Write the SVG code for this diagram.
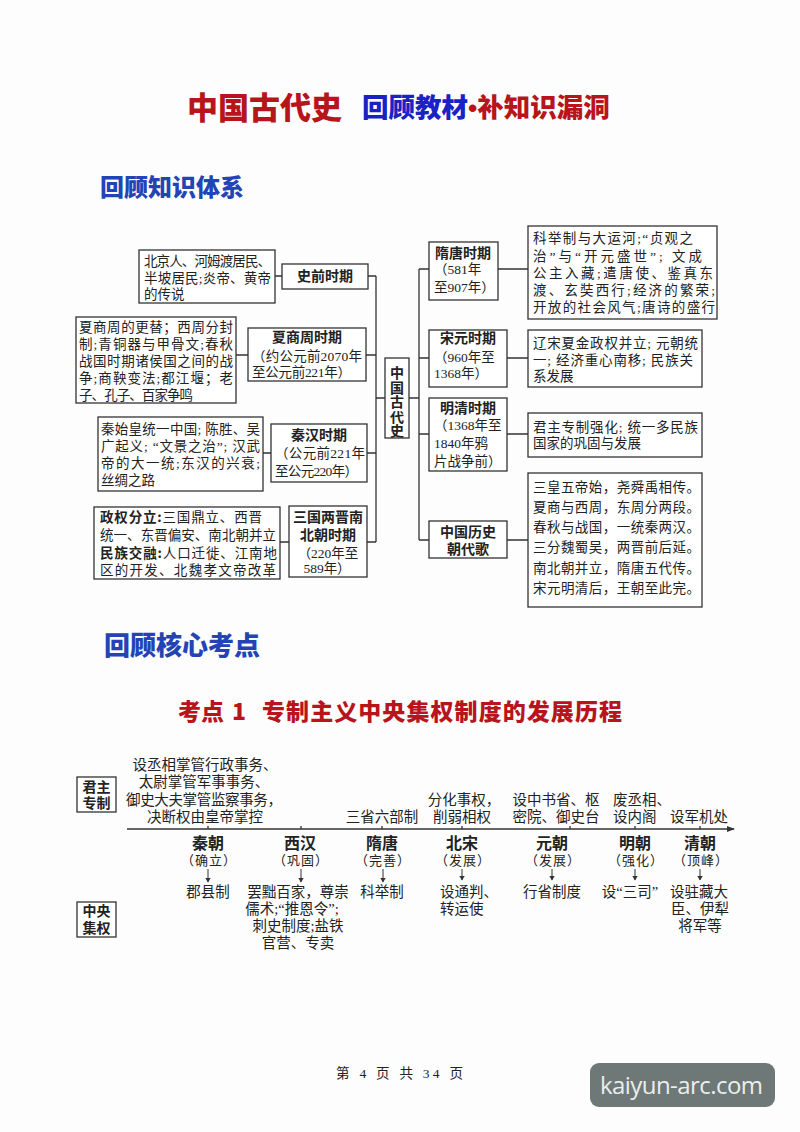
<svg xmlns="http://www.w3.org/2000/svg" width="800" height="1132" viewBox="0 0 800 1132">
<defs>
<marker id="ah" markerWidth="8" markerHeight="6" refX="7" refY="3" orient="auto" markerUnits="userSpaceOnUse"><path d="M0,0 L8,3 L0,6 Z" fill="#333"/></marker>
<marker id="ahs" markerWidth="5" markerHeight="6" refX="4.5" refY="3" orient="auto" markerUnits="userSpaceOnUse"><path d="M0,0 L5,3 L0,6 Z" fill="#333"/></marker>
<style>
.box{fill:#fff;stroke:#333;stroke-width:1.3}
.ln{stroke:#333;stroke-width:1.3;fill:none}
.t{font-family:"Liberation Serif","Noto Sans CJK SC",serif;font-size:13.5px;fill:#222}
.b{font-family:"Noto Sans CJK SC","Noto Sans",sans-serif;font-weight:700;font-size:14px;fill:#222}
.bb{font-weight:700;font-family:"Noto Sans CJK SC","Noto Sans",sans-serif}
.c{text-anchor:middle}
.h{font-family:"Noto Sans CJK SC","Noto Sans",sans-serif;font-weight:900}
.tl{font-family:"Liberation Serif","Noto Sans CJK SC",serif;font-size:14.5px;fill:#222}
.dy{font-family:"Noto Sans CJK SC","Noto Sans",sans-serif;font-weight:700;font-size:16px;fill:#222;text-anchor:middle}
.pr{font-family:"Noto Sans CJK SC","Noto Sans",sans-serif;font-size:13px;fill:#222;text-anchor:middle;letter-spacing:1px}
</style>
</defs>
<rect x="0" y="0" width="800" height="1132" fill="#fdfdfd"/>

<g id="titles">
<text class="h" x="187" y="119" font-size="31" fill="#b8141c">中国古代史</text>
<text class="h" x="362" y="117" font-size="26.5"><tspan fill="#1a22c4">回顾教材</tspan><tspan fill="#b8141c" font-family="'Liberation Sans',sans-serif">•</tspan><tspan fill="#b8141c">补知识漏洞</tspan></text>
<text class="h" x="100" y="196" font-size="24" fill="#2443b5">回顾知识体系</text>
<text class="h" x="104" y="655" font-size="26" fill="#2443b5">回顾核心考点</text>
<text class="h" x="178" y="720" font-size="23" fill="#b8141c">考点</text>
<text class="h" x="232" y="720" font-size="23" fill="#b8141c">1</text>
<text class="h" x="262" y="720" font-size="23" fill="#b8141c" textLength="360">专制主义中央集权制度的发展历程</text>
</g>

<g id="connectors">
<path class="ln" d="M275,276 H282 M368,276 H376 M236,355 H248 M366,355 H376 M263,453 H271 M367,453 H376 M280,542 H289 M367,542 H376 M376,276 V542 M376,398 H385"/>
<path class="ln" d="M409,398 H419 M419,269 V540 M419,269 H429 M419,358 H429 M419,434 H429 M419,540 H429 M498,269 H528 M507,358 H528 M507,434 H528 M507,540 H528"/>
<line class="ln" x1="127" y1="829" x2="734" y2="829" marker-end="url(#ah)"/>
<path class="ln" stroke-width="1" d="M208,826 V829 M301,826 V829 M382,826 V829 M462,826 V829 M570,826 V829 M635,826 V829 M700,826 V829"/>
<g stroke="#333" stroke-width="1">
<line x1="208" y1="869" x2="208" y2="882" marker-end="url(#ahs)"/>
<line x1="301" y1="869" x2="301" y2="882" marker-end="url(#ahs)"/>
<line x1="383" y1="869" x2="383" y2="882" marker-end="url(#ahs)"/>
<line x1="462" y1="869" x2="462" y2="880" marker-end="url(#ahs)"/>
<line x1="552" y1="869" x2="552" y2="880" marker-end="url(#ahs)"/>
<line x1="635" y1="869" x2="635" y2="880" marker-end="url(#ahs)"/>
<line x1="700" y1="869" x2="700" y2="880" marker-end="url(#ahs)"/>
</g>
</g>

<g id="n-prehistory-detail">
<rect class="box" x="139" y="250" width="136" height="53"/>
<text class="t" x="144" y="266" textLength="127">北京人、河姆渡居民、</text>
<text class="t" x="144" y="283" textLength="127">半坡居民;炎帝、黄帝</text>
<text class="t" x="144" y="299">的传说</text>
</g>
<g id="n-prehistory">
<rect class="box" x="282" y="264" width="86" height="25"/>
<text class="b c" x="325" y="281">史前时期</text>
</g>

<g id="n-xsz-detail">
<rect class="box" x="76" y="317" width="160" height="86"/>
<text class="t" x="79" y="332" textLength="154">夏商周的更替；西周分封</text>
<text class="t" x="79" y="349" textLength="154">制;青铜器与甲骨文;春秋</text>
<text class="t" x="79" y="366" textLength="154">战国时期诸侯国之间的战</text>
<text class="t" x="79" y="383" textLength="154">争;商鞅变法;都江堰；老</text>
<text class="t" x="79" y="400" textLength="114">子、孔子、百家争鸣</text>
</g>
<g id="n-xsz">
<rect class="box" x="248" y="328" width="118" height="53"/>
<text class="b c" x="307" y="342">夏商周时期</text>
<text class="t" x="252" y="361" textLength="110">（约公元前2070年</text>
<text class="t" x="252" y="377" textLength="99">至公元前221年）</text>
</g>

<g id="n-qh-detail">
<rect class="box" x="98" y="417" width="165" height="74"/>
<text class="t" x="101" y="434" textLength="159">秦始皇统一中国; 陈胜、吴</text>
<text class="t" x="101" y="451" textLength="159">广起义; “文景之治”; 汉武</text>
<text class="t" x="101" y="468" textLength="159">帝的大一统;东汉的兴衰;</text>
<text class="t" x="101" y="485">丝绸之路</text>
</g>
<g id="n-qh">
<rect class="box" x="271" y="424" width="96" height="58"/>
<text class="b c" x="319" y="440">秦汉时期</text>
<text class="t" x="275" y="458" textLength="90">（公元前221年</text>
<text class="t" x="275" y="476" textLength="83">至公元220年）</text>
</g>

<g id="n-sg-detail">
<rect class="box" x="94" y="507" width="186" height="72"/>
<text class="t" x="100" y="522" textLength="162"><tspan class="bb">政权分立:</tspan>三国鼎立、西晋</text>
<text class="t" x="100" y="540" textLength="176">统一、东晋偏安、南北朝并立</text>
<text class="t" x="100" y="558" textLength="177"><tspan class="bb">民族交融:</tspan>人口迁徙、江南地</text>
<text class="t" x="100" y="575" textLength="176">区的开发、北魏孝文帝改革</text>
</g>
<g id="n-sg">
<rect class="box" x="289" y="506" width="78" height="71"/>
<text class="b c" x="328" y="522">三国两晋南</text>
<text class="b c" x="328" y="540">北朝时期</text>
<text class="t c" x="328" y="558">（220年至</text>
<text class="t c" x="327" y="573">589年）</text>
</g>

<g id="n-center">
<rect class="box" x="385" y="358" width="24" height="80"/>
<text class="b" font-size="13" x="397" y="366" style="writing-mode:vertical-rl" letter-spacing="0.4">中国古代史</text>
</g>

<g id="n-sui">
<rect class="box" x="429" y="242" width="69" height="58"/>
<text class="b c" x="463" y="258">隋唐时期</text>
<text class="t" x="434" y="274">（581年</text>
<text class="t" x="434" y="292">至907年）</text>
</g>
<g id="n-sui-detail">
<rect class="box" x="528" y="226" width="189" height="93"/>
<text class="t" x="533" y="243" textLength="160">科举制与大运河;“贞观之</text>
<text class="t" x="533" y="261" textLength="169">治”与“开元盛世”; 文成</text>
<text class="t" x="533" y="278" textLength="180">公主入藏;遣唐使、鉴真东</text>
<text class="t" x="533" y="295" textLength="182">渡、玄奘西行;经济的繁荣;</text>
<text class="t" x="533" y="312" textLength="182">开放的社会风气;唐诗的盛行</text>
</g>

<g id="n-song">
<rect class="box" x="429" y="330" width="78" height="57"/>
<text class="b c" x="468" y="343">宋元时期</text>
<text class="t" x="434" y="362">（960年至</text>
<text class="t" x="434" y="378">1368年）</text>
</g>
<g id="n-song-detail">
<rect class="box" x="528" y="330" width="174" height="57"/>
<text class="t" x="533" y="348" textLength="165">辽宋夏金政权并立; 元朝统</text>
<text class="t" x="533" y="365" textLength="160">一; 经济重心南移; 民族关</text>
<text class="t" x="533" y="381">系发展</text>
</g>

<g id="n-ming">
<rect class="box" x="429" y="398" width="78" height="73"/>
<text class="b c" x="468" y="413">明清时期</text>
<text class="t" x="434" y="430">（1368年至</text>
<text class="t" x="434" y="448">1840年鸦</text>
<text class="t" x="434" y="466">片战争前）</text>
</g>
<g id="n-ming-detail">
<rect class="box" x="528" y="413" width="174" height="44"/>
<text class="t" x="533" y="432" textLength="165">君主专制强化; 统一多民族</text>
<text class="t" x="533" y="448">国家的巩固与发展</text>
</g>

<g id="n-song-of-dynasties">
<rect class="box" x="429" y="521" width="78" height="37"/>
<text class="b c" x="468" y="537">中国历史</text>
<text class="b c" x="468" y="554">朝代歌</text>
</g>
<g id="n-poem">
<rect class="box" x="528" y="473" width="174" height="134"/>
<text class="t" x="533" y="492" textLength="167">三皇五帝始，尧舜禹相传。</text>
<text class="t" x="533" y="512" textLength="167">夏商与西周，东周分两段。</text>
<text class="t" x="533" y="532" textLength="167">春秋与战国，一统秦两汉。</text>
<text class="t" x="533" y="552" textLength="167">三分魏蜀吴，两晋前后延。</text>
<text class="t" x="533" y="573" textLength="167">南北朝并立，隋唐五代传。</text>
<text class="t" x="533" y="593" textLength="167">宋元明清后，王朝至此完。</text>
</g>

<g id="n-junzhu">
<rect class="box" x="77" y="777" width="39" height="35"/>
<text class="b c" x="96.5" y="792" font-size="15">君主</text>
<text class="b c" x="96.5" y="808" font-size="15">专制</text>
</g>
<g id="n-zhongyang">
<rect class="box" x="77" y="902" width="39" height="35"/>
<text class="b c" x="96.5" y="916" font-size="15">中央</text>
<text class="b c" x="96.5" y="933" font-size="15">集权</text>
</g>

<g id="n-qin">
<text class="tl c" x="205" y="770">设丞相掌管行政事务、</text>
<text class="tl c" x="204" y="787">太尉掌管军事事务、</text>
<text class="tl c" x="204" y="805" textLength="156">御史大夫掌管监察事务，</text>
<text class="tl c" x="205" y="822" textLength="116">决断权由皇帝掌控</text>
<text class="dy" x="208" y="849">秦朝</text>
<text class="pr" x="209" y="865">（确立）</text>
<text class="tl c" x="208" y="897">郡县制</text>
</g>
<g id="n-xihan">
<text class="dy" x="300" y="849">西汉</text>
<text class="pr" x="301" y="865">（巩固）</text>
<text class="tl c" x="298" y="897">罢黜百家，尊崇</text>
<text class="tl c" x="292" y="914">儒术;“推恩令”;</text>
<text class="tl c" x="298" y="931">刺史制度;盐铁</text>
<text class="tl c" x="298" y="948">官营、专卖</text>
</g>
<g id="n-suitang">
<text class="tl c" x="382" y="822">三省六部制</text>
<text class="dy" x="382" y="849">隋唐</text>
<text class="pr" x="383" y="865">（完善）</text>
<text class="tl c" x="382" y="897">科举制</text>
</g>
<g id="n-beisong">
<text class="tl c" x="464" y="805">分化事权，</text>
<text class="tl c" x="462" y="822">削弱相权</text>
<text class="dy" x="462" y="849">北宋</text>
<text class="pr" x="463" y="865">（发展）</text>
<text class="tl" x="440" y="897">设通判、</text>
<text class="tl" x="440" y="914">转运使</text>
</g>
<g id="n-yuan">
<text class="tl c" x="556" y="805">设中书省、枢</text>
<text class="tl c" x="556" y="822">密院、御史台</text>
<text class="dy" x="552" y="849">元朝</text>
<text class="pr" x="553" y="865">（发展）</text>
<text class="tl c" x="552" y="897">行省制度</text>
</g>
<g id="n-ming-t">
<text class="tl" x="613" y="805">废丞相、</text>
<text class="tl" x="613" y="822">设内阁</text>
<text class="dy" x="635" y="849">明朝</text>
<text class="pr" x="636" y="865">（强化）</text>
<text class="tl c" x="630" y="897">设“三司”</text>
</g>
<g id="n-qing">
<text class="tl c" x="699" y="822">设军机处</text>
<text class="dy" x="700" y="849">清朝</text>
<text class="pr" x="701" y="865">（顶峰）</text>
<text class="tl c" x="699" y="897">设驻藏大</text>
<text class="tl c" x="700" y="914">臣、伊犁</text>
<text class="tl c" x="700" y="931">将军等</text>
</g>

<g id="footer">
<text class="t" x="336" y="1078" font-size="14" textLength="127">第 4 页 共 34 页</text>
<rect x="590" y="1063" width="185" height="44" rx="9" fill="#6e7877"/>
<text x="600" y="1094" font-family="'Open Sans','Noto Sans',sans-serif" font-size="24" fill="#e9eeee" textLength="163">kaiyun-arc.com</text>
</g>
</svg>
